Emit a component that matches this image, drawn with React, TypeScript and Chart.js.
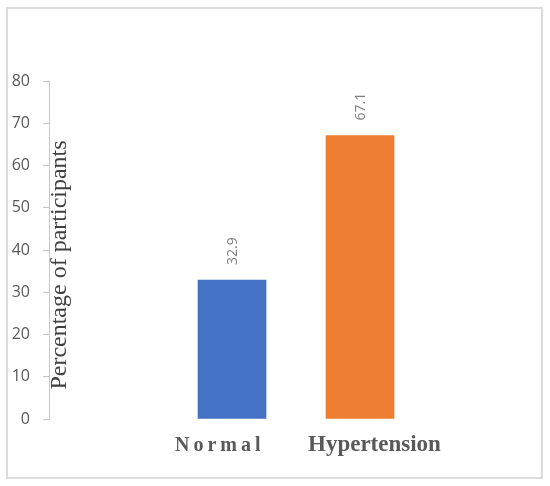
import { useEffect, useRef } from "react";
import { Chart, registerables } from "chart.js";

Chart.register(...registerables);

//  Data

const CATEGORIES = ["Normal", "Hypertension"];
const VALUES = [32.9, 67.1];
const BAR_COLORS = ["#4472C4", "#ED7D31"];
const Y_TITLE = "Percentage of participants";
const Y_MIN = 0;
const Y_MAX = 80;
const Y_STEP = 10;

//  Styles

const AXIS_GREY = "#c8c8c8";
const TICK_TEXT = "#595959";
const VALUE_TEXT = "#7f7f7f";
const SERIF = "'Liberation Serif', serif";
const SANS = "'Open Sans', sans-serif";

// value labels, axis title inside the plot, category labels (with letter spacing)
const textPlugin = {
  id: "chartText",
  afterDatasetsDraw(chart: Chart) {
    const { ctx } = chart;
    const meta = chart.getDatasetMeta(0);
    ctx.save();
    ctx.font = `14px ${SANS}`;
    ctx.fillStyle = VALUE_TEXT;
    ctx.textAlign = "left";
    ctx.textBaseline = "middle";
    meta.data.forEach((bar: any, i: number) => {
      ctx.save();
      ctx.translate(bar.x + 1, bar.y - 15);
      ctx.rotate(-Math.PI / 2);
      ctx.fillText(VALUES[i].toFixed(1), 0, 0);
      ctx.restore();
    });
    ctx.restore();
  },
  afterDraw(chart: Chart) {
    const { ctx } = chart;
    const x = chart.scales.x;
    const y = chart.scales.y;

    // y title sits to the right of the axis line
    ctx.save();
    ctx.translate(x.left + 17, (y.top + y.bottom) / 2 + 15);
    ctx.rotate(-Math.PI / 2);
    ctx.font = `24px ${SERIF}`;
    ctx.fillStyle = "#404040";
    ctx.textAlign = "center";
    ctx.textBaseline = "alphabetic";
    ctx.fillText(Y_TITLE, 0, 0);
    ctx.restore();

    // category labels
    const baseY = y.bottom + 32;
    ctx.save();
    ctx.fillStyle = TICK_TEXT;
    ctx.textAlign = "left";
    ctx.textBaseline = "alphabetic";
    (ctx as any).letterSpacing = "4px";
    ctx.font = `bold 20px ${SERIF}`;
    ctx.fillText(CATEGORIES[0], x.getPixelForValue(0) - 57, baseY);
    (ctx as any).letterSpacing = "0px";
    ctx.font = `bold 23px ${SERIF}`;
    ctx.fillText(CATEGORIES[1], x.getPixelForValue(1) - 52, baseY);
    ctx.restore();
  },
};

export default function App() {
  const canvasRef = useRef<HTMLCanvasElement>(null);

  useEffect(() => {
    if (!canvasRef.current) return;
    const chart = new Chart(canvasRef.current, {
      type: "bar",
      data: {
        datasets: [
          {
            data: VALUES.map((v, i) => ({ x: i, y: v })),
            backgroundColor: BAR_COLORS,
            barThickness: 68,
          },
        ],
      },
      options: {
        responsive: true,
        maintainAspectRatio: false,
        animation: false,
        events: [],
        layout: { padding: { left: 11, top: 81, right: 30, bottom: 67 } },
        plugins: {
          legend: { display: false },
          tooltip: { enabled: false },
        },
        scales: {
          x: {
            type: "linear",
            offset: false,
            grid: { offset: false },
            min: -1.43,
            max: 2.25,
            display: false,
          },
          y: {
            min: Y_MIN,
            max: Y_MAX,
            ticks: {
              stepSize: Y_STEP,
              color: TICK_TEXT,
              padding: 13,
              font: { family: SANS, size: 16 },
            },
            grid: {
              drawOnChartArea: false,
              drawTicks: true,
              tickLength: 6,
              color: AXIS_GREY,
            },
            border: { display: true, color: AXIS_GREY },
            afterFit: (s: any) => {
              s.width = 38;
            },
          },
        },
      },
      plugins: [textPlugin],
    } as any);
    return () => chart.destroy();
  }, []);

  return (
    <div
      style={{
        position: "absolute",
        left: 0,
        top: 0,
        width: "550px",
        height: "486px",
        background: "#fff",
      }}
    >
      <div
        style={{
          position: "absolute",
          left: "6px",
          top: "7px",
          width: "537px",
          height: "472px",
          border: "2px solid #dcdcdc",
          boxSizing: "border-box",
        }}
      />
      <div style={{ position: "absolute", left: 0, top: 0, width: "550px", height: "486px" }}>
        <canvas ref={canvasRef} />
      </div>
    </div>
  );
}
